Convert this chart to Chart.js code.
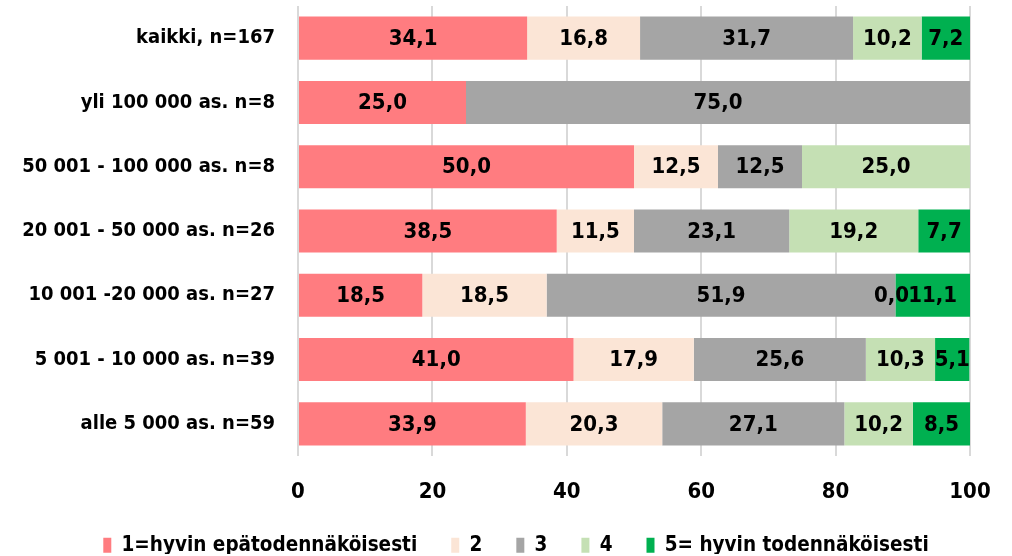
<!DOCTYPE html>
<html>
<head>
<meta charset="utf-8">
<script src="https://cdn.jsdelivr.net/npm/chart.js@4/dist/chart.umd.min.js"></script>
<style>
html,body{margin:0;padding:0;background:#fff;}
#wrap{width:1012px;height:556px;}
</style>
</head>
<body>
<div id="wrap"><canvas id="c" width="1012" height="556"></canvas></div>
<script>
const categories = ["kaikki, n=167","yli 100 000 as. n=8","50 001 - 100 000 as. n=8","20 001 - 50 000 as. n=26","10 001 -20 000 as. n=27","5 001 - 10 000 as. n=39","alle 5 000 as. n=59"];
const seriesNames = ["1=hyvin epätodennäköisesti","2","3","4","5= hyvin todennäköisesti"];
const s1 = [34.1, 25.0, 50.0, 38.5, 18.5, 41.0, 33.9];
const s2 = [16.8, null, 12.5, 11.5, 18.5, 17.9, 20.3];
const s3 = [31.7, 75.0, 12.5, 23.1, 51.9, 25.6, 27.1];
const s4 = [10.2, null, 25.0, 19.2, 0.0, 10.3, 10.2];
const s5 = [7.2, null, null, 7.7, 11.1, 5.1, 8.5];
const colors = ["#FF7C80","#FBE5D6","#A5A5A5","#C5E0B4","#00B050"];
const xTicks = [0,20,40,60,80,100];

const FONT = "'DejaVu Sans Condensed','Liberation Sans',sans-serif";

const labelPlugin = {
  id: 'barLabels',
  beforeLayout(chart) {
    const lg = chart.legend;
    if (lg && !lg._patched) {
      const f = lg.fit.bind(lg);
      lg.fit = function () { f(); this.height = 53; };
      lg._patched = true;
    }
  },
  afterLayout(chart) {
    const lg = chart.legend;
    if (lg) {
      lg.left += 31; lg.right += 31;
      lg.top -= 2; lg.bottom -= 2;
    }
  },
  afterDatasetsDraw(chart) {
    const ctx = chart.ctx;
    ctx.save();
    ctx.font = "bold 22px " + FONT;
    ctx.fillStyle = "#000";
    ctx.textAlign = "center";
    ctx.textBaseline = "middle";
    chart.data.datasets.forEach((ds, di) => {
      const meta = chart.getDatasetMeta(di);
      meta.data.forEach((el, i) => {
        const v = ds.data[i];
        if (v === null || v === undefined) return;
        let cx = (el.x + el.base) / 2;
        if (v === 0) cx -= 4;
        ctx.fillText(v.toFixed(1).replace('.', ','), cx, el.y + 1);
      });
    });
    ctx.restore();
  }
};

const data = {
  labels: categories,
  datasets: [s1,s2,s3,s4,s5].map((d, i) => ({
    label: seriesNames[i],
    data: d,
    backgroundColor: colors[i],
    borderWidth: 0,
    barPercentage: 0.67,
    categoryPercentage: 1.0
  }))
};

new Chart(document.getElementById('c'), {
  type: 'bar',
  data: data,
  plugins: [labelPlugin],
  options: {
    indexAxis: 'y',
    responsive: false,
    animation: false,
    layout: { padding: { left: 0, right: 42, top: 6, bottom: 0 } },
    plugins: {
      tooltip: { enabled: false },
      legend: {
        position: 'bottom',
        labels: {
          font: { family: FONT, size: 20.5, weight: 'bold' },
          color: '#000',
          boxWidth: 8,
          boxHeight: 15,
          padding: 34
        }
      }
    },
    scales: {
      x: {
        stacked: true,
        min: 0, max: 100,
        afterBuildTicks: (axis) => { axis.ticks = xTicks.map(v => ({ value: v })); },
        afterFit: (axis) => { axis.height = 47; axis.paddingLeft = 0; axis.paddingRight = 0; },
        grid: { color: '#D9D9D9', lineWidth: 2, drawTicks: true, tickLength: 0 },
        border: { display: false },
        ticks: { font: { family: FONT, size: 22, weight: 'bold' }, color: '#000', padding: 23 }
      },
      y: {
        stacked: true,
        afterFit: (axis) => { axis.width = 298; axis.paddingTop = 0; axis.paddingBottom = 0; },
        grid: { display: false, tickLength: 0 },
        border: { display: false },
        ticks: { font: { family: FONT, size: 20, weight: 'bold' }, color: '#000', padding: 23 }
      }
    }
  }
});
</script>
</body>
</html>
